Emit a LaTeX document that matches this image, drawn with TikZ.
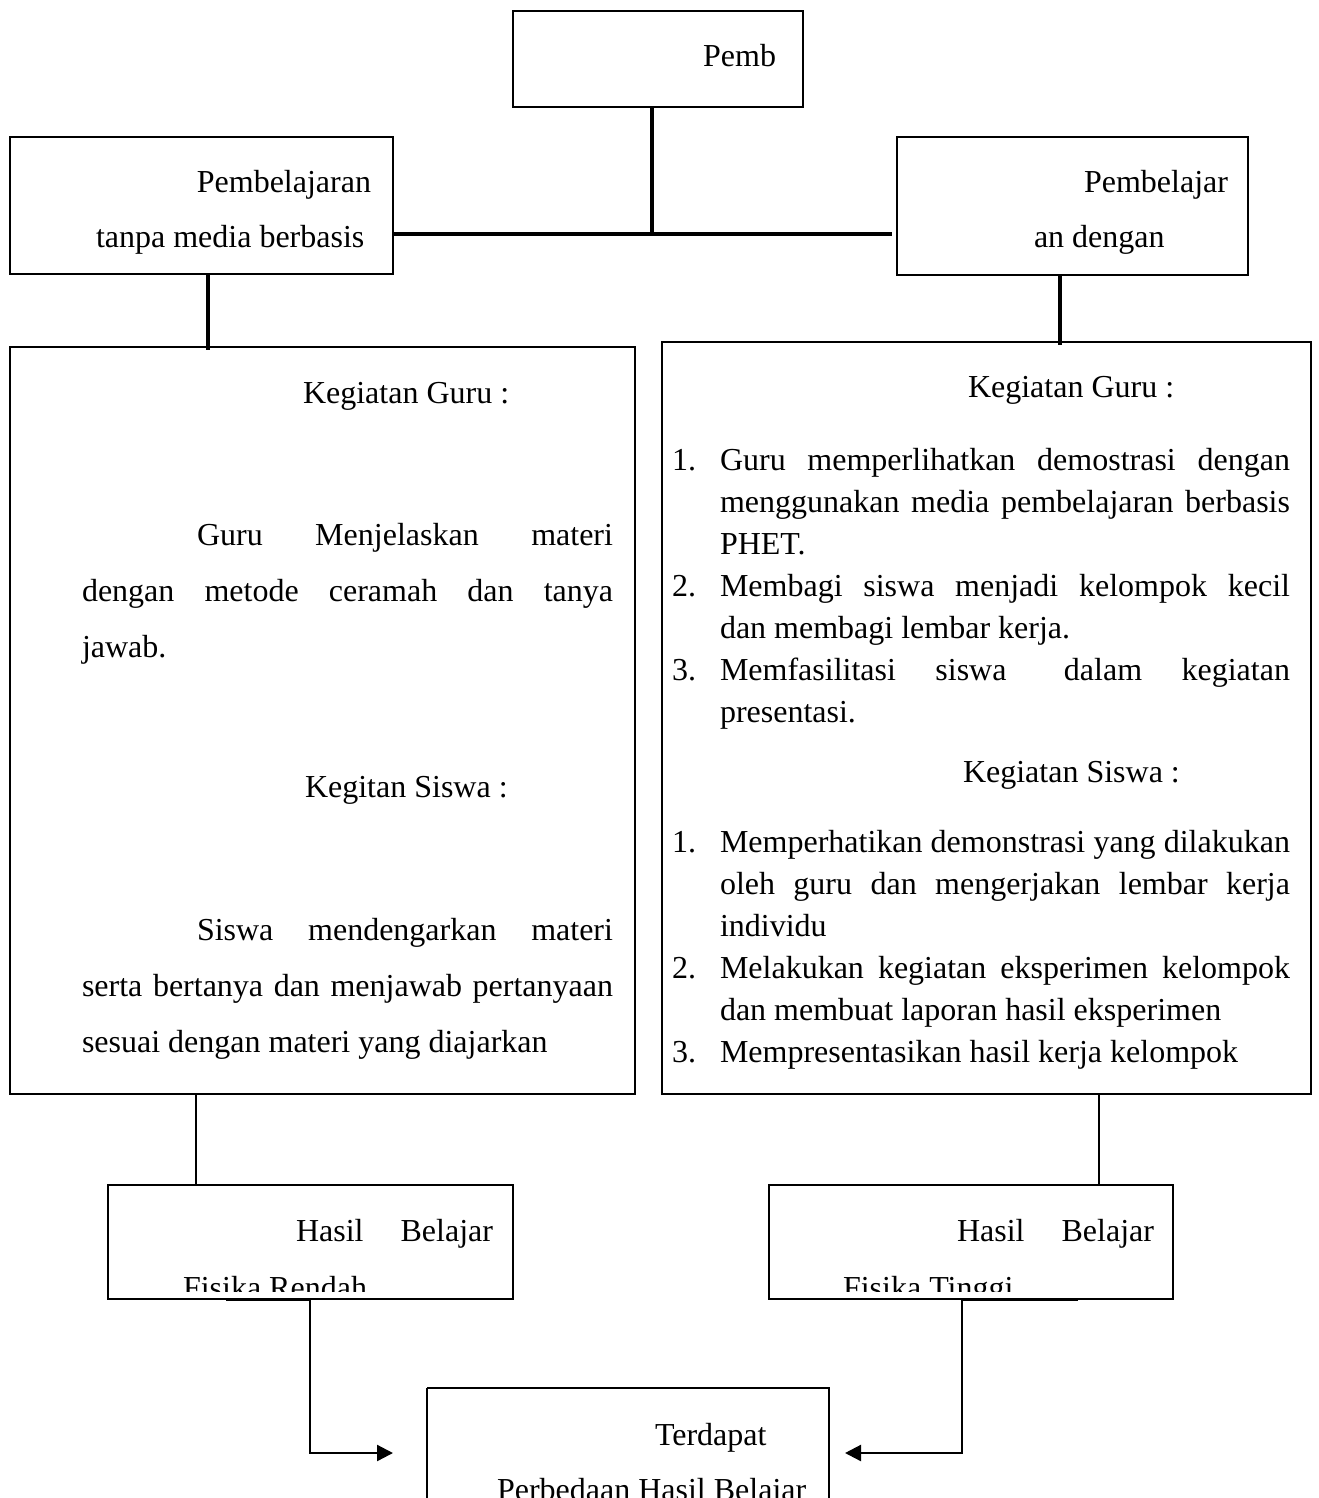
\documentclass[tikz,border=0pt]{standalone}
\usepackage{fontspec}
\setmainfont{Liberation Serif}
\usetikzlibrary{arrows.meta}
\tikzset{
  boxline/.style={draw=black, line width=1.4pt},
  txt/.style={inner sep=0pt, outer sep=0pt, anchor=base west, font=\fontsize{32}{38}\selectfont},
  txtr/.style={txt, anchor=base east},
  thickcon/.style={line width=3.2pt},
  thincon/.style={line width=2pt},
  arrowcon/.style={line width=2.3pt, -{Triangle[length=16pt,width=16pt]}},
}
\newcommand{\jline}[1]{\makebox[570pt][s]{#1}}
\newcommand{\lline}[1]{\makebox[531pt][s]{#1}}
\begin{document}
\begin{tikzpicture}[x=1pt,y=-1pt]
\useasboundingbox (0,0) rectangle (1318,1498);
\fill[white] (0,0) rectangle (1318,1498);

% boxes
\draw[boxline] (513,11) rectangle (803,107);
\node (top) at (658,59) [minimum width=290pt, minimum height=96pt, inner sep=0pt] {};
\draw[boxline] (10,137) rectangle (393,274);
\node (lb) at (201.5,205.5) [minimum width=383pt, minimum height=137pt, inner sep=0pt] {};
\draw[boxline] (897,137) rectangle (1248,275);
\node (rb) at (1072.5,206) [minimum width=351pt, minimum height=138pt, inner sep=0pt] {};
\draw[boxline] (10,347) rectangle (635,1094);
\node (lbig) at (322.5,720.5) [minimum width=625pt, minimum height=747pt, inner sep=0pt] {};
\draw[boxline] (662,342) rectangle (1311,1094);
\node (rbig) at (986.5,718) [minimum width=649pt, minimum height=752pt, inner sep=0pt] {};
\draw[boxline] (108,1185) rectangle (513,1299);
\node (lh) at (310.5,1242) [minimum width=405pt, minimum height=114pt, inner sep=0pt] {};
\draw[boxline] (769,1185) rectangle (1173,1299);
\node (rh) at (971,1242) [minimum width=404pt, minimum height=114pt, inner sep=0pt] {};
\draw[boxline] (427,1388) -- (427,1510) (427,1388) -- (829,1388) -- (829,1510);
\node (fin) at (628,1450) [minimum width=402pt, minimum height=124pt, inner sep=0pt] {};

% texts top
\node[txtr] (t1) at (776,67) {Pemb};
\node[txtr] (t2) at (371,193) {Pembelajaran};
\node[txt] (t3) at (96,247) {tanpa media berbasis};
\node[txtr] (t4) at (1228,193) {Pembelajar};
\node[txt] (t5) at (1034,247) {an dengan};

% left big box text
\node[txt] (l1) at (303,403) {Kegiatan Guru :};
\node[txt] (l2) at (197,545) {\makebox[416pt][s]{Guru Menjelaskan materi}};
\node[txt] (l3) at (82,601) {\lline{dengan metode ceramah dan tanya}};
\node[txt] (l4) at (82,657) {jawab.};
\node[txt] (l5) at (305,797) {Kegitan Siswa :};
\node[txt] (l6) at (197,940) {\makebox[416pt][s]{Siswa mendengarkan materi}};
\node[txt] (l7) at (82,996) {\lline{serta bertanya dan menjawab pertanyaan}};
\node[txt] (l8) at (82,1052) {sesuai dengan materi yang diajarkan};

% right big box text
\node[txt] (r1) at (968,397) {Kegiatan Guru :};
\node[txt] (rn1) at (672,470) {1.};
\node[txt] (r2) at (720,470) {\jline{Guru memperlihatkan demostrasi dengan}};
\node[txt] (r3) at (720,512) {\jline{menggunakan media pembelajaran berbasis}};
\node[txt] (r4) at (720,554) {PHET.};
\node[txt] (rn2) at (672,596) {2.};
\node[txt] (r5) at (720,596) {\jline{Membagi siswa menjadi kelompok kecil}};
\node[txt] (r6) at (720,638) {dan membagi lembar kerja.};
\node[txt] (rn3) at (672,680) {3.};
\node[txt] (r7) at (720,680) {\jline{Memfasilitasi siswa\hspace{18pt} dalam kegiatan}};
\node[txt] (r8) at (720,722) {presentasi.};
\node[txt] (r9) at (963,782) {Kegiatan Siswa :};
\node[txt] (rn4) at (672,852) {1.};
\node[txt] (r10) at (720,852) {\jline{Memperhatikan demonstrasi yang dilakukan}};
\node[txt] (r11) at (720,894) {\jline{oleh guru dan mengerjakan lembar kerja}};
\node[txt] (r12) at (720,936) {individu};
\node[txt] (rn5) at (672,978) {2.};
\node[txt] (r13) at (720,978) {\jline{Melakukan kegiatan eksperimen kelompok}};
\node[txt] (r14) at (720,1020) {dan membuat laporan hasil eksperimen};
\node[txt] (rn6) at (672,1062) {3.};
\node[txt] (r15) at (720,1062) {Mempresentasikan hasil kerja kelompok};

% hasil boxes text
\node[txt] (h1) at (296,1241) {\makebox[197pt][s]{Hasil Belajar}};
\node[txt] (h2) at (957,1241) {\makebox[197pt][s]{Hasil Belajar}};
\begin{scope}
\clip (110,1187) rectangle (511,1291);
\node[txt] (h3) at (183,1298) {Fisika Rendah};
\end{scope}
\begin{scope}
\clip (771,1187) rectangle (1171,1291);
\node[txt] (h4) at (843,1298) {Fisika Tinggi};
\end{scope}
\node[txt] (f1) at (655,1445) {Terdapat};
\begin{scope}
\clip (429,1390) rectangle (827,1498);
\node[txt] (f2) at (497,1500) {Perbedaan Hasil Belajar};
\end{scope}

% connectors
\coordinate (j) at (652,234);
\draw[thickcon] (top.south -| j) -- (j);
\draw[line width=4.2pt] (lb.east |- j) -- (892,234);
\draw[thickcon] (208,274) -- (208,350);
\draw[thickcon] (1060,275) -- (1060,345);
\draw[thincon] (196,1094) -- (196,1185);
\draw[thincon] (1099,1094) -- (1099,1185);

\coordinate (la) at (226,1299);
\coordinate (lc) at (310,1299);
\coordinate (ld) at (310,1453);
\coordinate (le) at (393,1453);
\draw[line width=3pt] (la) -- (lc);
\draw[arrowcon] (lc) -- (ld) -- (le);

\coordinate (ra) at (1078,1299);
\coordinate (rc) at (962,1299);
\coordinate (rd) at (962,1453);
\coordinate (re) at (845,1453);
\draw[line width=3pt] (ra) -- (rc);
\draw[arrowcon] (rc) -- (rd) -- (re);
\end{tikzpicture}
\end{document}
